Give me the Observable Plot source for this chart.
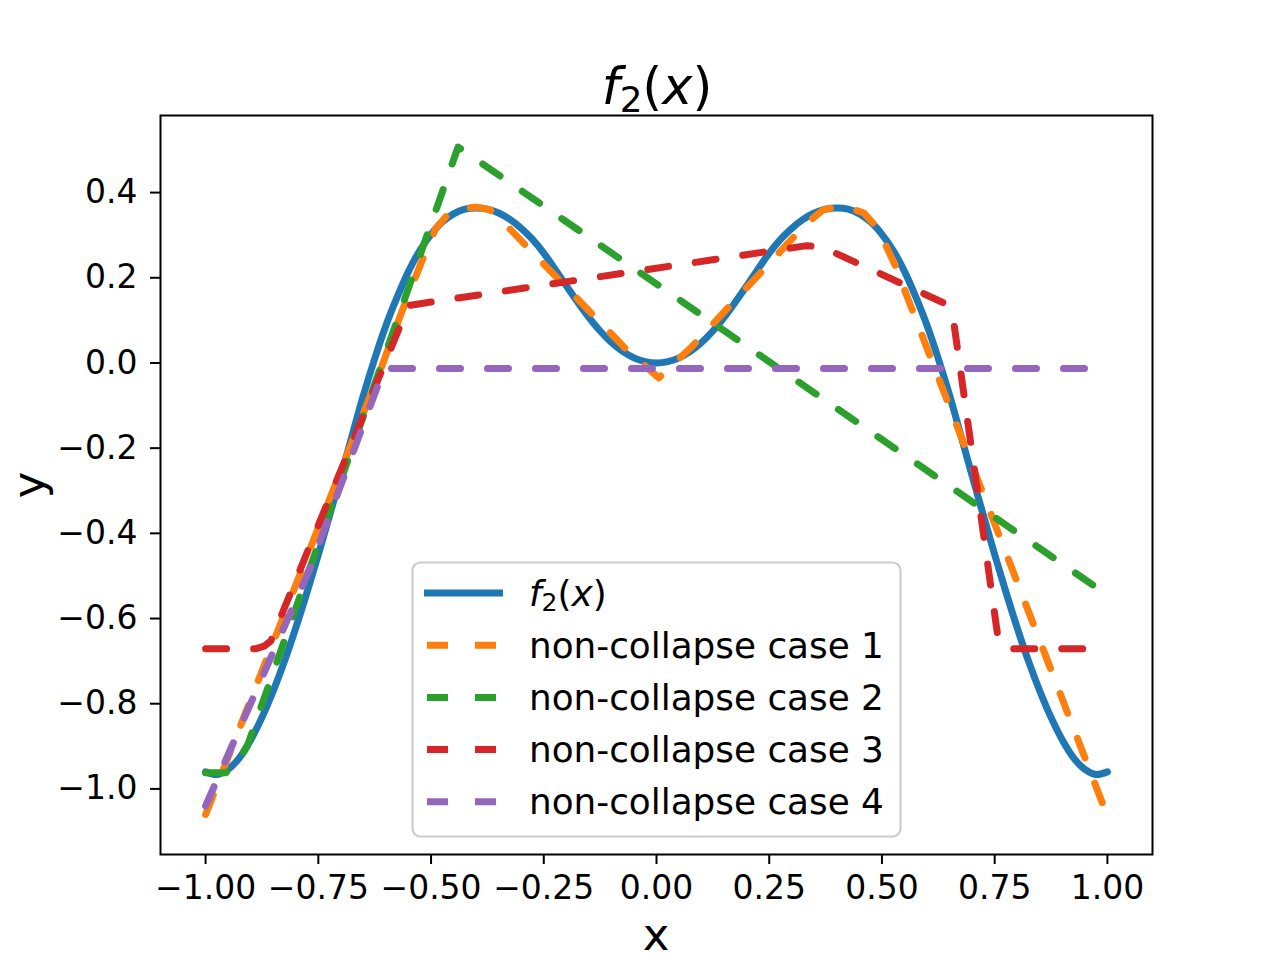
<!DOCTYPE html>
<html><head><meta charset="utf-8">
<script src="https://cdn.jsdelivr.net/npm/d3@7"></script>
<script src="https://cdn.jsdelivr.net/npm/@observablehq/plot@0.6"></script>
<style>html,body{margin:0;padding:0;background:#fff} svg{display:block}</style>
</head><body><div id="chart"></div>
<script>
// ---- data ----
const f2X = [-1.000, -0.975, -0.950, -0.925, -0.900, -0.875, -0.850, -0.825, -0.800, -0.775, -0.750, -0.725, -0.700, -0.675, -0.650, -0.625, -0.600, -0.575, -0.550, -0.525, -0.500, -0.475, -0.450, -0.425, -0.400, -0.375, -0.350, -0.325, -0.300, -0.275, -0.250, -0.225, -0.200, -0.175, -0.150, -0.125, -0.100, -0.075, -0.050, -0.025, 0.000,
  0.025, 0.050, 0.075, 0.100, 0.125, 0.150, 0.175, 0.200, 0.225, 0.250, 0.275, 0.300, 0.325, 0.350, 0.375, 0.400, 0.425, 0.450, 0.475, 0.500, 0.525, 0.550, 0.575, 0.600, 0.625, 0.650, 0.675, 0.700, 0.725, 0.750, 0.775, 0.800, 0.825, 0.850, 0.875, 0.900, 0.925, 0.950, 0.975, 1.000];
const f2Y = [-0.960, -0.966, -0.954, -0.927, -0.885, -0.832, -0.770, -0.700, -0.622, -0.538, -0.450, -0.358, -0.265, -0.170, -0.076, 0.010, 0.088, 0.155, 0.215, 0.264, 0.302, 0.331, 0.350, 0.361, 0.364, 0.361, 0.352, 0.337, 0.316, 0.290, 0.258, 0.220, 0.181, 0.143, 0.107, 0.075, 0.048, 0.027, 0.012, 0.003, 0.000,
  0.003, 0.012, 0.027, 0.048, 0.075, 0.107, 0.143, 0.181, 0.220, 0.258, 0.290, 0.316, 0.337, 0.352, 0.361, 0.364, 0.361, 0.350, 0.331, 0.302, 0.264, 0.215, 0.155, 0.088, 0.010, -0.076, -0.170, -0.265, -0.358, -0.450, -0.538, -0.622, -0.700, -0.770, -0.832, -0.885, -0.927, -0.954, -0.966, -0.960];

const case1X = [-1.0, -0.61, -0.565, -0.522, -0.49, -0.46, -0.43, -0.40, -0.37, -0.33, -0.07, 0.005, 0.08, 0.33, 0.37, 0.40, 0.43, 0.46, 0.49, 0.527, 1.0];
const case1Y = [-1.06, -0.01, 0.12, 0.235, 0.315, 0.352, 0.363, 0.366, 0.36, 0.32, 0.035, -0.035, 0.04, 0.325, 0.36, 0.366, 0.363, 0.352, 0.317, 0.235, -1.064];

const case2X = [-1.0, -0.955, -0.93, -0.906, -0.44, 1.0];
const case2Y = [-0.962, -0.962, -0.94, -0.895, 0.507, -0.545];

const case3X = [-1.0, -0.89, -0.87, -0.855, -0.55, 0.33, 0.36, 0.38, 0.635, 0.648, 0.66, 0.758, 0.775, 1.0];
const case3Y = [-0.671, -0.671, -0.665, -0.652, 0.135, 0.275, 0.274, 0.266, 0.142, 0.125, 0.09, -0.65, -0.671, -0.671];

const case4X = [-1.0, -0.77, -0.604, 1.0];
const case4Y = [-1.04, -0.486, -0.013, -0.013];

const xTicks = [-1.0, -0.75, -0.5, -0.25, 0.0, 0.25, 0.5, 0.75, 1.0];
const yTicks = [-1.0, -0.8, -0.6, -0.4, -0.2, 0.0, 0.2, 0.4];
const seriesNames = ["f2(x)", "non-collapse case 1", "non-collapse case 2", "non-collapse case 3", "non-collapse case 4"];
const seriesColors = ["#1f77b4", "#ff7f0e", "#2ca02c", "#d62728", "#9467bd"];

// ---- build ----
const rows = (xs, ys) => xs.map((x, i) => ({x, y: ys[i]}));
const minus = s => s.replace("-", "\u2212");
const FF = "DejaVu Sans";
const DASH = "21,27";
const LW = 7;

const dashed = [[case1X, case1Y], [case2X, case2Y], [case3X, case3Y], [case4X, case4Y]];

const plot = Plot.plot({
  width: 1280, height: 960,
  marginLeft: 160, marginRight: 128, marginTop: 115, marginBottom: 106,
  x: {domain: [-1.1, 1.1]},
  y: {domain: [-1.154, 0.581]},
  style: {fontFamily: FF, fontSize: "33px", color: "#000", background: "#fff"},
  marks: [
    Plot.line(rows(f2X, f2Y), {x: "x", y: "y", stroke: seriesColors[0], strokeWidth: LW, curve: "catmull-rom"}),
    ...dashed.map(([xs, ys], i) => Plot.line(rows(xs, ys), {x: "x", y: "y", stroke: seriesColors[i + 1], strokeWidth: LW, strokeDasharray: DASH, strokeLinejoin: "round"})),
    Plot.axisX({ticks: xTicks, tickFormat: d => minus(d.toFixed(2)), tickSize: 10, tickPadding: 11, strokeWidth: 2, label: null, fontSize: 33}),
    Plot.axisY({ticks: yTicks, tickFormat: d => minus(d.toFixed(1)), tickSize: 10, tickPadding: 13, strokeWidth: 2, label: null, fontSize: 33}),
    Plot.frame({stroke: "#000", strokeWidth: 2})
  ]
});
document.getElementById("chart").appendChild(plot);

const svg = d3.select(plot);

// math-style label f2(x)
function mathLabel(sel, size) {
  sel.append("tspan").attr("font-style", "italic").text("f");
  sel.append("tspan").attr("font-size", size * 0.7).attr("dy", size * 0.15).text("2");
  sel.append("tspan").attr("dy", -size * 0.15).text("(");
  sel.append("tspan").attr("font-style", "italic").text("x");
  sel.append("tspan").text(")");
}

// title
const title = svg.append("text").attr("x", 657).attr("y", 104).attr("text-anchor", "middle")
  .attr("font-family", FF).attr("font-size", 51).attr("fill", "#000");
mathLabel(title, 51);

// axis labels
svg.append("text").attr("x", 656).attr("y", 950).attr("text-anchor", "middle")
  .attr("font-family", FF).attr("font-size", 45).attr("fill", "#000").text("x");
svg.append("text").attr("transform", "translate(44,485) rotate(-90)").attr("text-anchor", "middle")
  .attr("font-family", FF).attr("font-size", 45).attr("fill", "#000").text("y");

// legend
const lg = svg.append("g").attr("text-anchor", "start");
lg.append("rect").attr("x", 412.5).attr("y", 562.5).attr("width", 488).attr("height", 274).attr("rx", 8)
  .attr("fill", "#fff").attr("fill-opacity", 0.8).attr("stroke", "#cccccc").attr("stroke-width", 2.2);
seriesNames.forEach((name, i) => {
  const yy = 593 + i * 52.2;
  lg.append("line").attr("x1", i === 0 ? 424 : 427).attr("x2", 503).attr("y1", yy).attr("y2", yy)
    .attr("stroke", seriesColors[i]).attr("stroke-width", LW)
    .attr("stroke-dasharray", i === 0 ? null : DASH);
  const t = lg.append("text").attr("x", 529).attr("y", yy + 12.5).attr("text-anchor", "start")
    .attr("font-family", FF).attr("font-size", 35.8).attr("fill", "#000");
  if (i === 0) mathLabel(t, 35.8); else t.text(name);
});
</script>
</body></html>
